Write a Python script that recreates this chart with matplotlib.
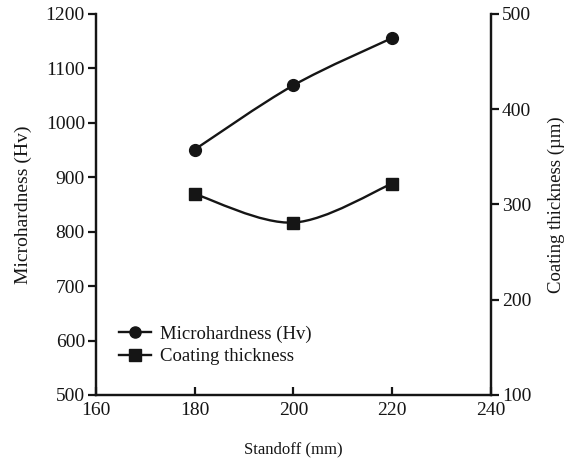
import matplotlib.pyplot as plt
import numpy as np
from matplotlib.path import Path
from matplotlib.patches import PathPatch
from matplotlib.lines import Line2D

# values
standoff = [180, 200, 220]
microhardness = [951, 1069, 1156]
coating_thickness = [311, 281, 322]

x_ticks = [160, 180, 200, 220, 240]
left_ticks = [500, 600, 700, 800, 900, 1000, 1100, 1200]
right_ticks = [100, 200, 300, 400, 500]

plt.rcParams['font.family'] = ['Liberation Serif', 'DejaVu Serif']


def smooth_path(xs, ys):
    # smoothed line through the points (catmull-rom as cubic bezier)
    pts = np.column_stack([xs, ys]).astype(float)
    ext = np.vstack([pts[0], pts, pts[-1]])
    verts = [pts[0]]
    codes = [Path.MOVETO]
    for i in range(1, len(ext) - 2):
        p0, p1, p2, p3 = ext[i - 1], ext[i], ext[i + 1], ext[i + 2]
        verts += [p1 + (p2 - p0) / 6, p2 - (p3 - p1) / 6, p2]
        codes += [Path.CURVE4] * 3
    return Path(verts, codes)


fig = plt.figure(figsize=(5.69, 4.66), dpi=100)
ax = fig.add_axes([0.1687, 0.1524, 0.6942, 0.8176])
ax2 = ax.twinx()

col = '#151515'
lw = 1.7
ax.add_patch(PathPatch(smooth_path(standoff, microhardness), fill=False,
                       lw=lw, edgecolor=col, transform=ax.transData))
ax.plot(standoff, microhardness, 'o', color=col, markersize=8.5)

ax2.add_patch(PathPatch(smooth_path(standoff, coating_thickness), fill=False,
                        lw=lw, edgecolor=col, transform=ax2.transData))
ax2.plot(standoff, coating_thickness, 's', color=col, markersize=8)

ax.set_xlim(160, 240)
ax.set_ylim(500, 1200)
ax2.set_ylim(100, 500)
ax.set_xticks(x_ticks)
ax.set_yticks(left_ticks)
ax2.set_yticks(right_ticks)

for a in (ax, ax2):
    a.spines['top'].set_visible(False)
    for s in a.spines.values():
        s.set_linewidth(1.6)
        s.set_color(col)

ax.tick_params(axis='y', direction='out', length=6, width=1.6, labelsize=14, pad=2, colors=col)
ax.tick_params(axis='x', direction='in', length=6, width=1.6, labelsize=14, pad=5, colors=col)
ax2.tick_params(axis='y', direction='out', length=6, width=1.6, labelsize=14, pad=2, colors=col)

ax.set_xlabel('Standoff (mm)', fontsize=12, labelpad=16, color=col)
ax.set_ylabel('Microhardness (Hv)', fontsize=14, labelpad=10, color=col)
ax2.set_ylabel('Coating thickness (\u00b5m)', fontsize=13.5, labelpad=12, color=col)

handles = [
    Line2D([], [], color=col, lw=lw, marker='o', markersize=8),
    Line2D([], [], color=col, lw=lw, marker='s', markersize=8),
]
ax.legend(handles, ['Microhardness (Hv)', 'Coating thickness'],
          loc='center left', bbox_to_anchor=(0.035, 0.13), frameon=False,
          fontsize=13.5, handlelength=1.7, handletextpad=0.45,
          labelspacing=0.3, borderpad=0, labelcolor=col)

fig.savefig('out.png', dpi=100)
